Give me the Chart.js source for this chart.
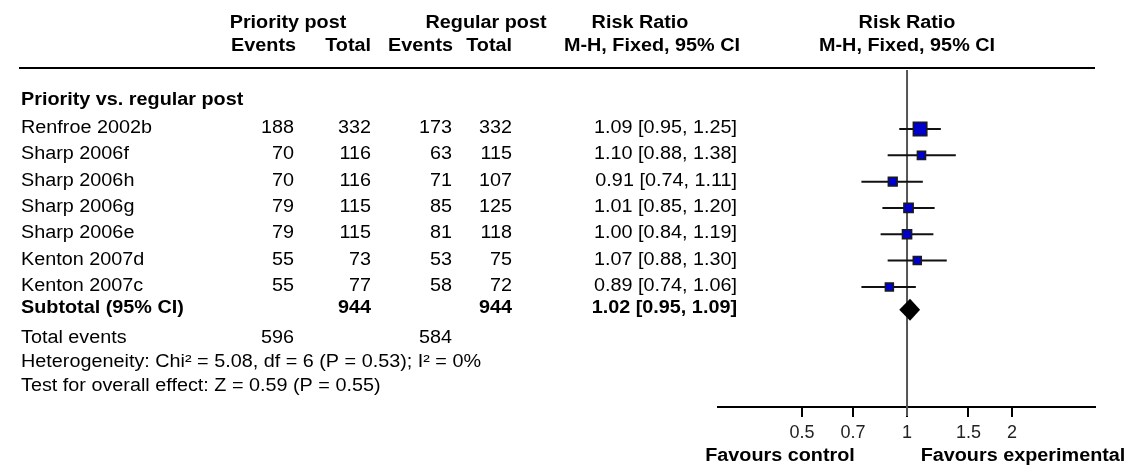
<!DOCTYPE html>
<html>
<head>
<meta charset="utf-8">
<title>Priority vs. regular post – Risk Ratio</title>
<script src="https://cdn.jsdelivr.net/npm/chart.js@4/dist/chart.umd.min.js"></script>
<style>
  html, body { margin: 0; padding: 0; background: #ffffff; }
  #wrap { width: 1131px; height: 468px; }
</style>
</head>
<body>
<div id="wrap"><canvas id="forest" width="1131" height="468"></canvas></div>
<script>
// ---- study data ----
const studies    = ['Renfroe 2002b', 'Sharp 2006f', 'Sharp 2006h', 'Sharp 2006g', 'Sharp 2006e', 'Kenton 2007d', 'Kenton 2007c'];
const prioEvents = [188, 70, 70, 79, 79, 55, 55];
const prioTotal  = [332, 116, 116, 115, 115, 73, 77];
const regEvents  = [173, 63, 71, 85, 81, 53, 58];
const regTotal   = [332, 115, 107, 125, 118, 75, 72];
const rr         = [1.09, 1.10, 0.91, 1.01, 1.00, 1.07, 0.89];
const rrLow      = [0.95, 0.88, 0.74, 0.85, 0.84, 0.88, 0.74];
const rrHigh     = [1.25, 1.38, 1.11, 1.20, 1.19, 1.30, 1.06];

// pooled estimate (M-H, fixed)
const pooled     = [1.02, 0.95, 1.09];   // estimate, low, high

// axis ticks
const tickValues = [0.5, 0.7, 1, 1.5, 2];
const tickLabels = ['0.5', '0.7', '1', '1.5', '2'];

const heterogeneityText = 'Heterogeneity: Chi\u00B2 = 5.08, df = 6 (P = 0.53); I\u00B2 = 0%';
const overallEffectText = 'Test for overall effect: Z = 0.59 (P = 0.55)';

// ---- derived values ----
const sum = a => a.reduce((s, v) => s + v, 0);
const fmt = v => v.toFixed(2);
const ciText = (e, l, h) => `${fmt(e)} [${fmt(l)}, ${fmt(h)}]`;
// Mantel-Haenszel weights decide the square size
const mhWeight = studies.map((_, i) => regEvents[i] * prioTotal[i] / (prioTotal[i] + regTotal[i]));
const squareSide = mhWeight.map(w => Math.max(8, 1.45 * Math.sqrt(w)));

// ---- layout ----
const FONT = "'Liberation Sans', Arial, sans-serif";
const FS = 18;          // table font size
const SX = 1.1;         // horizontal text stretch
const ROW_GAP_SUBTOTAL = 0.87;  // subtotal sits a little closer to the last study
const subtotalRow = studies.length - 1 + ROW_GAP_SUBTOTAL;

const col = {
  name: 21, prioEv: 294, prioTot: 371, regEv: 452, regTot: 512, rr: 737
};

function drawText(ctx, text, x, y, align, bold, size) {
  ctx.save();
  ctx.font = `${bold ? 'bold ' : ''}${size || FS}px ${FONT}`;
  ctx.fillStyle = '#000';
  ctx.textBaseline = 'middle';
  ctx.textAlign = 'left';
  const w = ctx.measureText(text).width * SX;
  let left = x;
  if (align === 'right') left = x - w;
  else if (align === 'center') left = x - w / 2;
  ctx.translate(left, y);
  ctx.scale(SX, 1);
  ctx.fillText(text, 0, 0);
  ctx.restore();
}

// line of no effect, drawn beneath the marks
const noEffectLine = {
  id: 'noEffectLine',
  beforeDatasetsDraw(chart) {
    const { ctx, chartArea, scales } = chart;
    const x = scales.x.getPixelForValue(1);
    ctx.save();
    ctx.strokeStyle = '#555';
    ctx.lineWidth = 2;
    ctx.beginPath();
    ctx.moveTo(x, chartArea.top);
    ctx.lineTo(x, chartArea.bottom + 9);
    ctx.stroke();
    ctx.restore();
  }
};

// pooled diamond
const pooledDiamond = {
  id: 'pooledDiamond',
  afterDatasetsDraw(chart) {
    const { ctx, scales } = chart;
    const y = scales.y.getPixelForValue(subtotalRow);
    const xc = scales.x.getPixelForValue(pooled[0]);
    const xl = scales.x.getPixelForValue(pooled[1]);
    const xh = scales.x.getPixelForValue(pooled[2]);
    const h = 11;
    ctx.save();
    ctx.fillStyle = '#000';
    ctx.beginPath();
    ctx.moveTo(xl, y);
    ctx.lineTo(xc, y - h);
    ctx.lineTo(xh, y);
    ctx.lineTo(xc, y + h);
    ctx.closePath();
    ctx.fill();
    ctx.restore();
  }
};

// table columns, headings and footnotes
const forestTable = {
  id: 'forestTable',
  afterDraw(chart) {
    const { ctx, scales } = chart;
    const xOne = scales.x.getPixelForValue(1);

    // headings
    drawText(ctx, 'Priority post', 288, 23, 'center', true);
    drawText(ctx, 'Regular post', 486, 23, 'center', true);
    drawText(ctx, 'Risk Ratio', 640, 23, 'center', true);
    drawText(ctx, 'Risk Ratio', xOne, 23, 'center', true);
    drawText(ctx, 'Events', 296, 46, 'right', true);
    drawText(ctx, 'Total', col.prioTot, 46, 'right', true);
    drawText(ctx, 'Events', 453, 46, 'right', true);
    drawText(ctx, 'Total', col.regTot, 46, 'right', true);
    drawText(ctx, 'M-H, Fixed, 95% CI', 652, 46, 'center', true);
    drawText(ctx, 'M-H, Fixed, 95% CI', xOne, 46, 'center', true);

    ctx.save();
    ctx.strokeStyle = '#000';
    ctx.lineWidth = 2;
    ctx.beginPath();
    ctx.moveTo(19, 68);
    ctx.lineTo(chart.chartArea.right, 68);
    ctx.stroke();
    ctx.restore();

    drawText(ctx, 'Priority vs. regular post', col.name, 100, 'left', true);

    studies.forEach((name, i) => {
      const y = scales.y.getPixelForValue(i) - 1;
      drawText(ctx, name, col.name, y, 'left', false);
      drawText(ctx, String(prioEvents[i]), col.prioEv, y, 'right', false);
      drawText(ctx, String(prioTotal[i]), col.prioTot, y, 'right', false);
      drawText(ctx, String(regEvents[i]), col.regEv, y, 'right', false);
      drawText(ctx, String(regTotal[i]), col.regTot, y, 'right', false);
      drawText(ctx, ciText(rr[i], rrLow[i], rrHigh[i]), col.rr, y, 'right', false);
    });

    const ys = scales.y.getPixelForValue(subtotalRow) - 2;
    drawText(ctx, 'Subtotal (95% CI)', col.name, ys, 'left', true);
    drawText(ctx, String(sum(prioTotal)), col.prioTot, ys, 'right', true);
    drawText(ctx, String(sum(regTotal)), col.regTot, ys, 'right', true);
    drawText(ctx, ciText(pooled[0], pooled[1], pooled[2]), col.rr, ys, 'right', true);

    drawText(ctx, 'Total events', col.name, 338, 'left', false);
    drawText(ctx, String(sum(prioEvents)), col.prioEv, 338, 'right', false);
    drawText(ctx, String(sum(regEvents)), col.regEv, 338, 'right', false);
    drawText(ctx, heterogeneityText, col.name, 362, 'left', false);
    drawText(ctx, overallEffectText, col.name, 386, 'left', false);

    drawText(ctx, 'Favours control', 780, 456, 'center', true);
    drawText(ctx, 'Favours experimental', 1023, 456, 'center', true);
  }
};

// confidence-interval whiskers, one short line per study
const whiskers = studies.map((name, i) => ({
  type: 'line',
  label: name + ' CI',
  data: [{ x: rrLow[i], y: i }, { x: rrHigh[i], y: i }],
  borderColor: '#111',
  borderWidth: 2,
  pointRadius: 0,
  showLine: true,
  order: 2
}));

const squares = {
  type: 'scatter',
  label: 'Risk ratio',
  data: studies.map((_, i) => ({ x: rr[i], y: i })),
  pointStyle: 'rect',
  pointRadius: squareSide.map(s => s / Math.SQRT2),
  pointHoverRadius: squareSide.map(s => s / Math.SQRT2),
  backgroundColor: '#0000cc',
  borderColor: '#1a1a1a',
  borderWidth: 1.5,
  order: 1
};

new Chart(document.getElementById('forest'), {
  type: 'scatter',
  data: { datasets: [squares, ...whiskers] },
  plugins: [noEffectLine, pooledDiamond, forestTable],
  options: {
    responsive: false,
    animation: false,
    devicePixelRatio: 1,
    layout: { padding: { left: 718, right: 36, top: 70, bottom: 21 } },
    plugins: { legend: { display: false }, tooltip: { enabled: false } },
    scales: {
      x: {
        type: 'logarithmic',
        position: 'bottom',
        min: 0.2871,
        max: 3.459,
        bounds: 'data',
        afterBuildTicks: scale => { scale.ticks = tickValues.map(v => ({ value: v })); },
        afterFit: scale => { scale.height = 40; },
        grid: { display: true, drawOnChartArea: false, drawTicks: true, tickLength: 10, color: '#000', lineWidth: 2 },
        border: { display: true, color: '#000', width: 2 },
        ticks: {
          autoSkip: false,
          maxRotation: 0,
          minRotation: 0,
          padding: 5,
          color: '#222',
          font: { family: FONT, size: 18 },
          callback: (v, idx) => tickLabels[idx]
        }
      },
      y: {
        type: 'linear',
        display: false,
        reverse: true,
        min: -2.24,
        max: 10.56
      }
    }
  }
});
</script>
</body>
</html>
